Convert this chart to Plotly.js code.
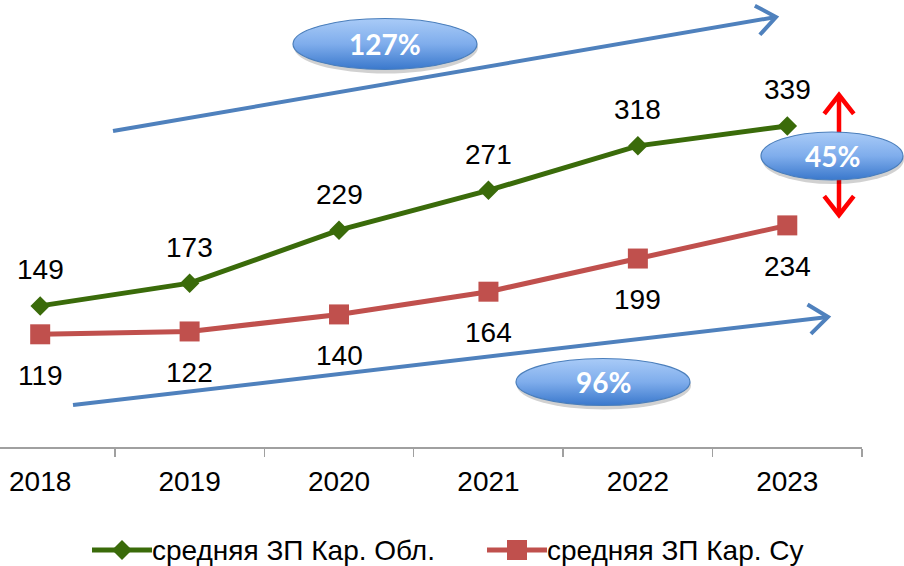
<!DOCTYPE html>
<html>
<head>
<meta charset="utf-8">
<script src="https://cdn.plot.ly/plotly-3.0.1.min.js"></script>
<style>html,body{margin:0;padding:0;background:#fff;}</style>
</head>
<body>
<div id="chart" style="width:904px;height:566px;"></div>
<script>
// ---- data ----
const years = ['2018', '2019', '2020', '2021', '2022', '2023'];
const oblValues = [149, 173, 229, 271, 318, 339];
const suValues = [119, 122, 140, 164, 199, 234];
const seriesNames = ['средняя ЗП Кар. Обл.', 'средняя ЗП Кар. Су'];
const growthLabels = ['127%', '96%', '45%'];

// ---- styles / geometry helpers ----
const W = 904, H = 566;
const PW = 862, PH = 447;           // plot area (margin l=0, t=0)
const P = x => x / PW;
const Q = y => (PH - y) / PH;
const green = '#3a6b0a', red = '#c0504d', blue = '#4f81bd';
const FONT = 'Liberation Sans, Arial, sans-serif';

const traces = [
  {x: years, y: oblValues, name: seriesNames[0], type: 'scatter', mode: 'lines+markers',
   line: {color: green, width: 5}, marker: {symbol: 'diamond', size: 15, color: green},
   showlegend: false, hoverinfo: 'none'},
  {x: years, y: suValues, name: seriesNames[1], type: 'scatter', mode: 'lines+markers',
   line: {color: red, width: 5}, marker: {symbol: 'square', size: 20, color: red},
   showlegend: false, hoverinfo: 'none'}
];

const annotations = [];
years.forEach((yr, i) => {
  // category axis: annotation x is the category's serial index
  annotations.push({x: i, y: oblValues[i], xref: 'x', yref: 'y', text: String(oblValues[i]),
    showarrow: false, yanchor: 'middle', yshift: 36, font: {family: FONT, size: 28, color: '#000'}});
  annotations.push({x: i, y: suValues[i], xref: 'x', yref: 'y', text: String(suValues[i]),
    showarrow: false, yanchor: 'middle', yshift: -41, font: {family: FONT, size: 28, color: '#000'}});
});

const shapes = [];
function arrowLine(x1, y1, x2, y2, color, width, heads) {
  shapes.push({type: 'line', xref: 'paper', yref: 'paper', x0: P(x1), y0: Q(y1), x1: P(x2), y1: Q(y2),
    line: {color: color, width: width}});
  const L = 24, th = 38 * Math.PI / 180;
  function head(ax, ay, bx, by) {
    const dx = bx - ax, dy = by - ay, len = Math.hypot(dx, dy);
    const ux = dx / len, uy = dy / len;
    const r = (a) => [ux * Math.cos(a) - uy * Math.sin(a), ux * Math.sin(a) + uy * Math.cos(a)];
    const a1 = r(th), a2 = r(-th);
    const p1 = [bx - L * a1[0], by - L * a1[1]], p2 = [bx - L * a2[0], by - L * a2[1]];
    shapes.push({type: 'path', xref: 'paper', yref: 'paper',
      path: `M${P(p1[0])},${Q(p1[1])} L${P(bx)},${Q(by)} L${P(p2[0])},${Q(p2[1])}`,
      line: {color: color, width: width}});
  }
  head(x1, y1, x2, y2);
  if (heads === 2) head(x2, y2, x1, y1);
}
arrowLine(113, 131, 776, 17, blue, 4, 1);
arrowLine(73, 405, 828, 317, blue, 4, 1);
arrowLine(839, 95, 839, 215, '#ff0000', 4.5, 2);

function ellipse(cx, cy, w, h, label) {
  shapes.push({type: 'circle', xref: 'paper', yref: 'paper',
    x0: P(cx - w / 2 + 1), x1: P(cx + w / 2 + 1), y0: Q(cy + h / 2 + 4), y1: Q(cy - h / 2 + 3),
    fillcolor: 'rgba(0,0,0,0.18)', line: {width: 0}});
  shapes.push({type: 'circle', xref: 'paper', yref: 'paper',
    x0: P(cx - w / 2), x1: P(cx + w / 2), y0: Q(cy + h / 2), y1: Q(cy - h / 2),
    fillcolor: 'rgb(1,2,3)', line: {color: '#4a7ebb', width: 1.2}});
  annotations.push({xref: 'paper', yref: 'paper', x: P(cx), y: Q(cy), text: '<b>' + label + '</b>',
    showarrow: false, xanchor: 'center', yanchor: 'middle',
    font: {family: 'Lato, Open Sans, sans-serif', size: 28, color: '#ffffff'}});
}
ellipse(385, 44, 184, 51, growthLabels[0]);
ellipse(603, 382, 174, 47, growthLabels[1]);
ellipse(832, 156, 142, 48, growthLabels[2]);

// manual legend
function legendItem(x0, x1, yc, color, symbol, label) {
  shapes.push({type: 'line', xref: 'paper', yref: 'paper', x0: P(x0), y0: Q(yc), x1: P(x1), y1: Q(yc),
    line: {color: color, width: 5}});
  const mx = (x0 + x1) / 2;
  if (symbol === 'diamond') {
    shapes.push({type: 'path', xref: 'paper', yref: 'paper',
      path: `M${P(mx - 10)},${Q(yc)} L${P(mx)},${Q(yc - 10)} L${P(mx + 10)},${Q(yc)} L${P(mx)},${Q(yc + 10)} Z`,
      fillcolor: color, line: {width: 0}});
  } else {
    shapes.push({type: 'rect', xref: 'paper', yref: 'paper',
      x0: P(mx - 10), x1: P(mx + 10), y0: Q(yc + 10), y1: Q(yc - 10), fillcolor: color, line: {width: 0}});
  }
  annotations.push({xref: 'paper', yref: 'paper', x: P(x1 + 1), y: Q(yc), text: label, showarrow: false,
    xanchor: 'left', yanchor: 'middle', xshift: -3, font: {family: FONT, size: 28, color: '#000'}});
}
legendItem(92, 152, 550, green, 'diamond', seriesNames[0]);
legendItem(487, 547, 550, red, 'square', seriesNames[1]);

const layout = {
  width: W, height: H,
  margin: {l: 0, r: W - PW, t: 0, b: H - PH, pad: 0},
  paper_bgcolor: '#fff', plot_bgcolor: '#fff',
  showlegend: false,
  xaxis: {type: 'category', range: [-0.269, 5.5], tickson: 'boundaries', ticks: 'outside', ticklen: 8,
    tickwidth: 1.5, tickcolor: '#a0a0a0', showline: true, linecolor: '#a0a0a0', linewidth: 1.5,
    showgrid: false, zeroline: false, fixedrange: true, ticklabelstandoff: 9,
    tickfont: {family: FONT, size: 28, color: '#000'}},
  yaxis: {range: [0, 472], visible: false, fixedrange: true},
  shapes: shapes,
  annotations: annotations
};

Plotly.newPlot('chart', traces, layout, {staticPlot: true, displayModeBar: false}).then(gd => {
  const paths = gd.querySelectorAll('path');
  const NS = 'http://www.w3.org/2000/svg';
  paths.forEach(p => {
    const st = p.getAttribute('style') || '';
    if (st.indexOf('rgb(1, 2, 3)') >= 0) {
      const svg = p.ownerSVGElement;
      if (!svg.querySelector('#ellGrad')) {
        const defs = document.createElementNS(NS, 'defs');
        const lg = document.createElementNS(NS, 'linearGradient');
        lg.setAttribute('id', 'ellGrad');
        lg.setAttribute('x1', '0'); lg.setAttribute('y1', '0');
        lg.setAttribute('x2', '0'); lg.setAttribute('y2', '1');
        [['0', '#a9cbf7'], ['0.5', '#7fadec'], ['1', '#3a78cc']].forEach(s => {
          const stop = document.createElementNS(NS, 'stop');
          stop.setAttribute('offset', s[0]); stop.setAttribute('stop-color', s[1]);
          lg.appendChild(stop);
        });
        defs.appendChild(lg);
        svg.insertBefore(defs, svg.firstChild);
      }
      p.style.fill = 'url(#ellGrad)';
    }
  });
});
</script>
</body>
</html>
